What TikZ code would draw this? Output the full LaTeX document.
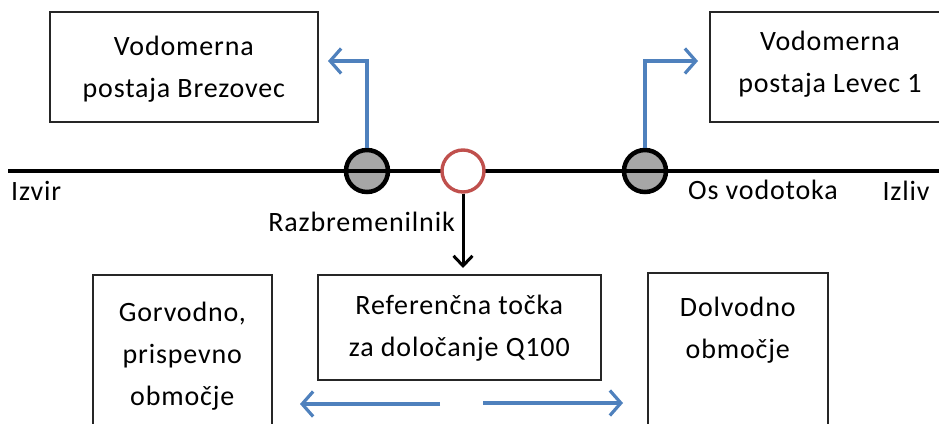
\documentclass[tikz,border=0pt]{standalone}
\usepackage{fontspec}
\setmainfont[LetterSpace=3]{Carlito}
\usetikzlibrary{arrows.meta}
\definecolor{flowblue}{HTML}{4F81BD}
\definecolor{refred}{HTML}{C0504D}
\definecolor{gauge}{HTML}{A6A6A6}
\begin{document}
\begin{tikzpicture}[x=1pt,y=-1pt,
  every node/.style={font=\fontsize{28}{42}\selectfont},
  box/.style={draw=black!85, line width=1.6pt, inner sep=0pt},
  lbl/.style={align=center, inner sep=0pt},
  gaugept/.style={circle, draw=black, line width=4.5pt, fill=gauge, minimum size=42pt, inner sep=0pt},
  refpt/.style={circle, draw=refred, line width=3.4pt, fill=white, minimum size=42pt, inner sep=0pt},
  bluearrow/.style={draw=flowblue, line width=3.2pt, -{Straight Barb[length=11pt,width=25pt,line width=3.2pt]}},
  blackarrow/.style={draw=black, line width=3pt, -{Straight Barb[length=10pt,width=19pt,line width=3pt]}}]
\useasboundingbox (0,0) rectangle (939,423);
\clip (0,0) rectangle (939,423);

% measuring stations
\node[box, minimum width=268pt, minimum height=110pt, anchor=north west] (brez) at (49,11) {};
\node[lbl] (brezt) at ([yshift=-2pt]brez.center) {Vodomerna\\postaja Brezovec};
\node[box, minimum width=242pt, minimum height=110pt, anchor=north west] (lev) at (709,11) {};
\node[lbl] (levt) at (830,64) {Vodomerna\\postaja Levec 1};

% gauge points on the stream
\node[gaugept] (g1) at (367,171) {};
\node[gaugept] (g2) at (645,171) {};

% stream axis
\coordinate (src) at (8,171);
\coordinate (mouth) at (939,171);
\draw[line width=3.6pt] (src) -- (mouth);

% overflow structure
\node[refpt] (rp) at (463,171) {};

% axis labels
\node[lbl, anchor=west] (izvir) at (11,191) {Izvir};
\node[lbl] (os) at (763,190) {Os vodotoka};
\node[lbl] (izliv) at (906,191) {Izliv};
\node[lbl, anchor=east] (razb) at (455,222) {Razbremenilnik};

% connections to the stations
\coordinate (brezin) at (328,61);
\coordinate (levin) at (698,61);
\draw[bluearrow] (g1.north) |- (brezin);
\draw[bluearrow] (g2.north) |- (levin);

% overflow to reference point
\coordinate (refin) at (463,268);
\draw[blackarrow] (rp.south) -- (refin);

% areas below
\node[box, minimum width=179pt, minimum height=170pt, anchor=north west] (gor) at (92,274) {};
\node[lbl, anchor=north] (gort) at ([yshift=-28pt]gor.north) {Gorvodno,\\prispevno\\območje};
\node[box, minimum width=283pt, minimum height=105pt, anchor=north west] (ref) at (317,274) {};
\node[lbl] (reft) at ([yshift=-1pt]ref.center) {Referenčna točka\\za določanje Q100};
\node[box, minimum width=180pt, minimum height=170pt, anchor=north west] (dol) at (647,272) {};
\node[lbl, anchor=north] (dolt) at ([yshift=-25pt]dol.north) {Dolvodno\\območje};

% upstream / downstream direction
\coordinate (ul) at (440,404);
\coordinate (ur) at (300,404);
\coordinate (dl) at (483,403);
\coordinate (dr) at (623,403);
\draw[bluearrow] (ul) -- (ur);
\draw[bluearrow] (dl) -- (dr);
\end{tikzpicture}
\end{document}
